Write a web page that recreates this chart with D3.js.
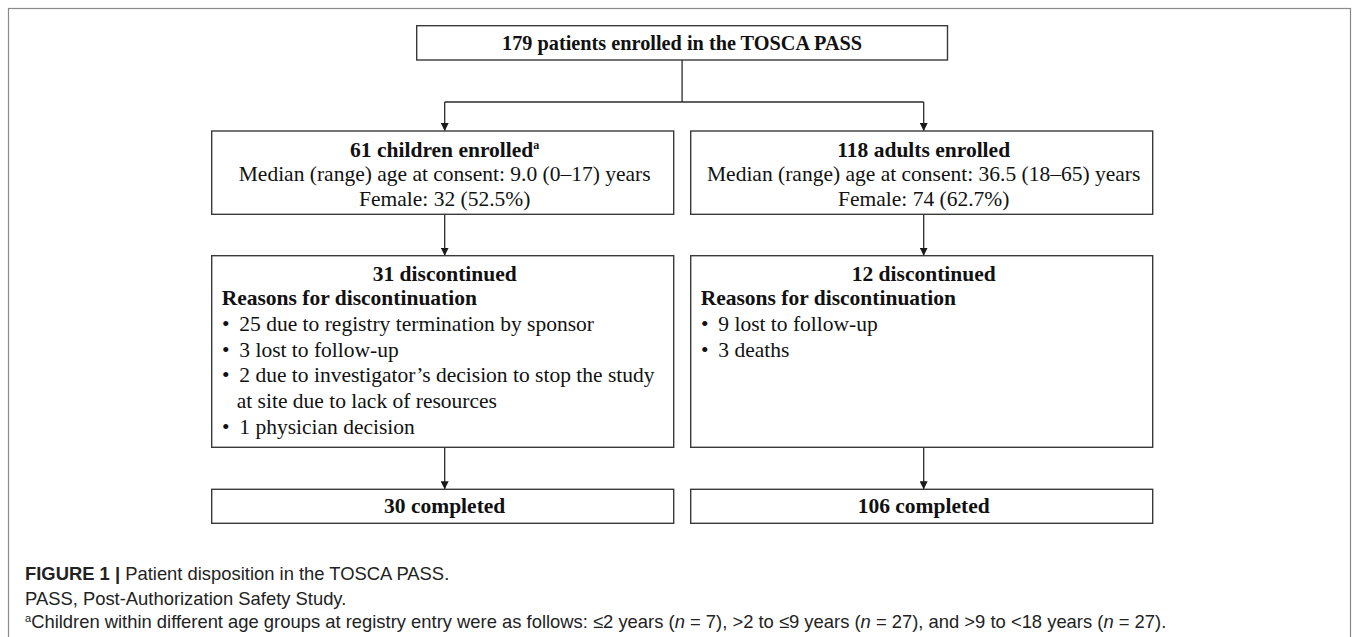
<!DOCTYPE html>
<html lang="en">
<head>
<meta charset="UTF-8">
<title>Patient disposition in the TOSCA PASS</title>
<script src="https://cdn.jsdelivr.net/npm/d3@7"></script>
<style>
  body { margin: 0; background: #fff; }
  .frame { fill: none; stroke: #8a8a8a; stroke-width: 1.2px; }
  .box { fill: #fff; stroke: #3a3a3a; stroke-width: 1.4px; }
  .link { fill: none; stroke: #2b2b2b; stroke-width: 1.3px; }
  .serif { font-family: "Liberation Serif", "Times New Roman", serif; font-size: 21.5px; fill: #111; }
  .bold { font-weight: bold; }
  .caption { font-family: "Liberation Sans", Arial, Helvetica, sans-serif; font-size: 18.4px; fill: #222; }
</style>
</head>
<body>
<div id="chart"></div>
<script>
// ---- data ----
const columns = ["children", "adults"];
const topTitle = "179 patients enrolled in the TOSCA PASS";
const enrolTitles = ["61 children enrolled", "118 adults enrolled"];
const enrolSup = ["a", ""];
const ageLines = ["Median (range) age at consent: 9.0 (0–17) years",
                  "Median (range) age at consent: 36.5 (18–65) years"];
const femaleLines = ["Female: 32 (52.5%)", "Female: 74 (62.7%)"];
const discTitles = ["31 discontinued", "12 discontinued"];
const reasonsHead = "Reasons for discontinuation";
const childReasons = [
  ["25 due to registry termination by sponsor"],
  ["3 lost to follow-up"],
  ["2 due to investigator’s decision to stop the study", "at site due to lack of resources"],
  ["1 physician decision"]
];
const adultReasons = [["9 lost to follow-up"], ["3 deaths"]];
const reasons = [childReasons, adultReasons];
const completed = ["30 completed", "106 completed"];

const captionLabel = "FIGURE 1 |";
const captionTitle = " Patient disposition in the TOSCA PASS.";
const abbrevLine = "PASS, Post-Authorization Safety Study.";
const footnoteSup = "a";
const footnote = [
  ["Children within different age groups at registry entry were as follows: ≤2 years (", false],
  ["n", true], [" = 7), >2 to ≤9 years (", false],
  ["n", true], [" = 27), and >9 to <18 years (", false],
  ["n", true], [" = 27).", false]
];

// ---- layout ----
const width = 1355, height = 637;
const x = d3.scaleBand().domain(columns).range([211.7, 1152.7]).paddingInner(0.0355);
const bw = x.bandwidth();
const cx = c => x(c) + bw / 2 + 2;
const rows = {
  top:   { y: 25.7,  h: 34.3 },
  enrol: { y: 131,   h: 83.3 },
  disc:  { y: 255.7, h: 191.6 },
  done:  { y: 489.3, h: 34 }
};
const topBox = { x: 416.7, w: 530.8 };
const topCx = topBox.x + topBox.w / 2;
const branchY = 102;
const lineStep = 25.8;

const svg = d3.select("#chart").append("svg")
  .attr("width", width).attr("height", height);

svg.append("defs").append("marker")
  .attr("id", "arrow")
  .attr("markerUnits", "userSpaceOnUse")
  .attr("viewBox", "0 0 8 8")
  .attr("refX", 8).attr("refY", 4)
  .attr("markerWidth", 8).attr("markerHeight", 8)
  .attr("orient", "auto")
  .append("path").attr("d", "M0,0 L8,4 L0,8 z").attr("fill", "#1a1a1a");

// outer frame
svg.append("rect").attr("class", "frame")
  .attr("x", 8.5).attr("y", 8.5).attr("width", 1342).attr("height", 700);

// top box
svg.append("rect").attr("class", "box")
  .attr("x", topBox.x).attr("y", rows.top.y)
  .attr("width", topBox.w).attr("height", rows.top.h);
svg.append("text").attr("class", "serif bold")
  .attr("x", topCx).attr("y", 50)
  .attr("text-anchor", "middle")
  .attr("textLength", 360).attr("lengthAdjust", "spacingAndGlyphs")
  .text(topTitle);

// connectors
svg.append("line").attr("class", "link")
  .attr("x1", topCx).attr("x2", topCx)
  .attr("y1", rows.top.y + rows.top.h).attr("y2", branchY);
svg.append("line").attr("class", "link")
  .attr("x1", cx(columns[0])).attr("x2", cx(columns[1]))
  .attr("y1", branchY).attr("y2", branchY);

const links = [
  [branchY, rows.enrol.y],
  [rows.enrol.y + rows.enrol.h, rows.disc.y],
  [rows.disc.y + rows.disc.h, rows.done.y]
];
columns.forEach(c => {
  links.forEach(([y1, y2]) => {
    svg.append("line").attr("class", "link")
      .attr("x1", cx(c)).attr("x2", cx(c))
      .attr("y1", y1).attr("y2", y2)
      .attr("marker-end", "url(#arrow)");
  });
});

// boxes per column
columns.forEach((c, i) => {
  ["enrol", "disc", "done"].forEach(r => {
    svg.append("rect").attr("class", "box")
      .attr("x", x(c)).attr("y", rows[r].y)
      .attr("width", bw).attr("height", rows[r].h);
  });

  // enrolment box
  const t1 = svg.append("text").attr("class", "serif bold")
    .attr("x", cx(c)).attr("y", rows.enrol.y + 25.5)
    .attr("text-anchor", "middle");
  t1.append("tspan").text(enrolTitles[i]);
  if (enrolSup[i]) {
    t1.append("tspan").attr("font-size", "12px").attr("dy", -8).text(enrolSup[i]);
  }
  svg.append("text").attr("class", "serif")
    .attr("x", cx(c)).attr("y", rows.enrol.y + 50.3)
    .attr("text-anchor", "middle").text(ageLines[i]);
  svg.append("text").attr("class", "serif")
    .attr("x", cx(c)).attr("y", rows.enrol.y + 75)
    .attr("text-anchor", "middle").text(femaleLines[i]);

  // discontinuation box
  const left = x(c) + 10;
  svg.append("text").attr("class", "serif bold")
    .attr("x", cx(c)).attr("y", rows.disc.y + 25.3)
    .attr("text-anchor", "middle").text(discTitles[i]);
  svg.append("text").attr("class", "serif bold")
    .attr("x", left).attr("y", rows.disc.y + 49.3)
    .text(reasonsHead);

  let k = 0;
  reasons[i].forEach(item => {
    item.forEach((ln, j) => {
      const y = rows.disc.y + 49.3 + lineStep * (k + 1);
      if (j === 0) {
        svg.append("text").attr("class", "serif")
          .attr("x", left + 4).attr("y", y).attr("text-anchor", "middle")
          .text("•");
      }
      svg.append("text").attr("class", "serif")
        .attr("x", j === 0 ? left + 17.6 : left + 15).attr("y", y)
        .text(ln);
      k++;
    });
  });

  // completed box
  svg.append("text").attr("class", "serif bold")
    .attr("x", cx(c)).attr("y", rows.done.y + 24)
    .attr("text-anchor", "middle").text(completed[i]);
});

// caption
const capX = 25;
const cap1 = svg.append("text").attr("class", "caption").attr("x", capX).attr("y", 580);
cap1.append("tspan").attr("font-weight", "bold").text(captionLabel);
cap1.append("tspan").text(captionTitle);

svg.append("text").attr("class", "caption").attr("x", capX).attr("y", 604.5).text(abbrevLine);

const cap3 = svg.append("text").attr("class", "caption").attr("x", capX).attr("y", 628);
cap3.append("tspan").attr("font-size", "11px").attr("dy", -6).text(footnoteSup);
footnote.forEach(([t, it], j) => {
  const s = cap3.append("tspan").text(t);
  if (j === 0) s.attr("dy", 6);
  if (it) s.attr("font-style", "italic");
});
</script>
</body>
</html>
